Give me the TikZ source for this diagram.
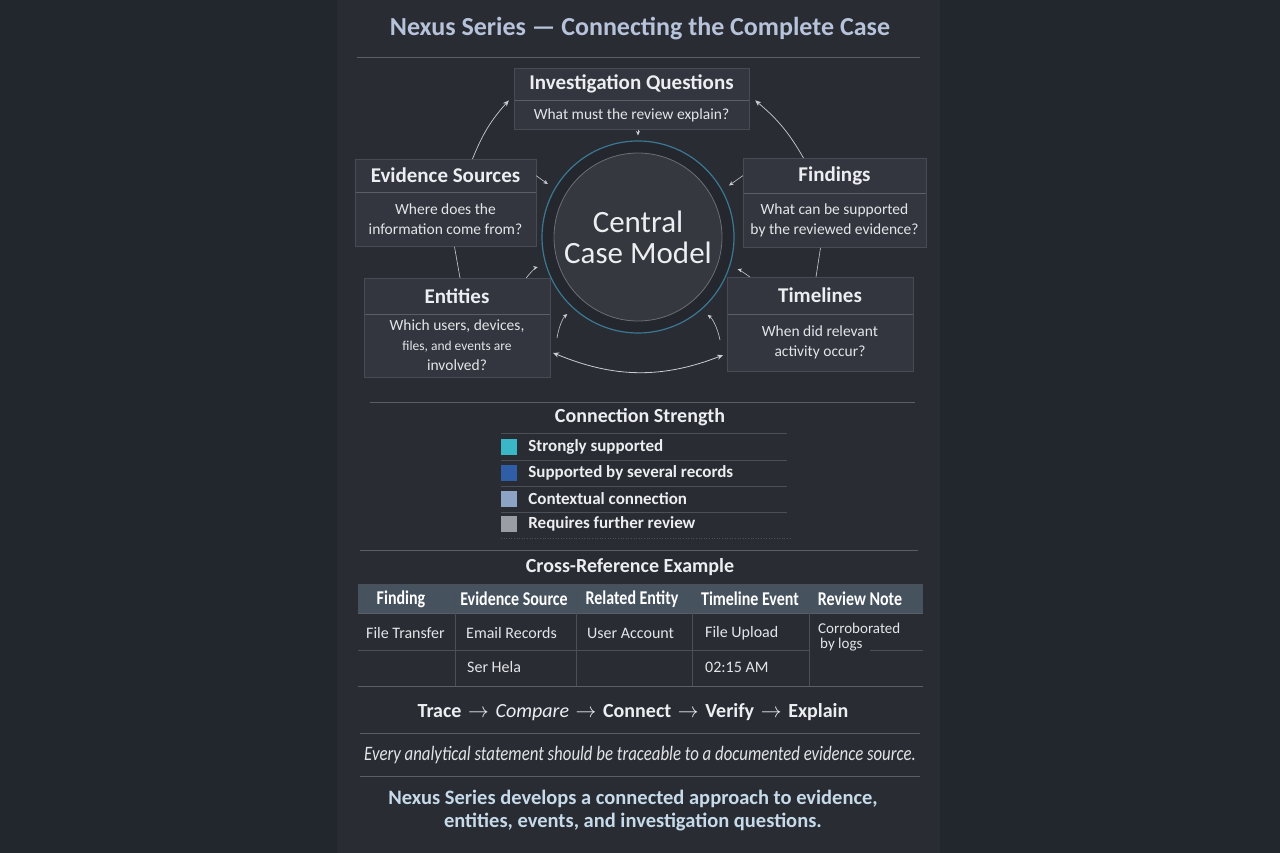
\documentclass[tikz,border=0pt]{standalone}
\usepackage{fontspec}
\usepackage{xcolor}
\usepackage{tikz}
\usetikzlibrary{positioning,arrows.meta}
\setmainfont{Carlito}
\newfontfamily\narrowfont[FakeStretch=0.82]{Carlito}

\definecolor{pagebg}{HTML}{22262D}
\definecolor{panelbg}{HTML}{292C33}
\definecolor{cardbg}{HTML}{33363E}
\definecolor{cardline}{HTML}{474B54}
\definecolor{rulegray}{HTML}{595E67}
\definecolor{tabline}{HTML}{4A4F58}
\definecolor{titleblue}{HTML}{B7C3DA}
\definecolor{inkwhite}{HTML}{ECEEF1}
\definecolor{arrowgray}{HTML}{C9CDD3}
\definecolor{ringblue}{HTML}{3C7893}
\definecolor{ringfill}{HTML}{24272D}
\definecolor{discfill}{HTML}{35383E}
\definecolor{discline}{HTML}{6A6E75}
\definecolor{headfill}{HTML}{46525E}
\definecolor{strongc}{HTML}{3BB6C6}
\definecolor{severalc}{HTML}{2F5EA6}
\definecolor{contextc}{HTML}{8DA3C6}
\definecolor{reviewc}{HTML}{9A9EA4}
\definecolor{closeblue}{HTML}{C6DAEA}

\newcommand{\fs}[2]{\fontsize{#1}{#2}\selectfont}

\begin{document}
\begin{tikzpicture}[
    x=1pt, y=-1pt,
    cardhead/.style={fill=cardbg, text=inkwhite, font=\fs{21}{24}\bfseries, inner sep=0pt, anchor=north},
    cardbody/.style={fill=cardbg, text=inkwhite!92!gray, font=\fs{15.5}{20}, align=center, inner sep=0pt},
    cardrule/.style={rulegray, line width=0.8pt},
    cardframe/.style={cardline, line width=0.6pt},
    ring/.style={circle, minimum size=192pt, inner sep=0pt, fill=ringfill, draw=ringblue, line width=1.2pt},
    core/.style={circle, minimum size=168pt, inner sep=0pt, fill=discfill, draw=discline, line width=0.8pt, align=center, text=inkwhite, font=\fs{31}{31}},
    link/.style={-{Stealth[length=6pt,width=5pt]}, arrowgray, line width=0.7pt},
    spoke/.style={-{Stealth[length=4.5pt,width=4pt]}, arrowgray, line width=0.6pt, shorten >=8pt},
    tie/.style={arrowgray, line width=0.6pt},
    twoway/.style={{Stealth[length=6pt,width=5pt]}-{Stealth[length=6pt,width=5pt]}, arrowgray, line width=0.8pt},
    sectrule/.style={rulegray, line width=0.8pt},
    legrule/.style={tabline, line width=0.6pt},
    sechead/.style={text=inkwhite, font=\fs{20}{24}\bfseries},
    swatch/.style={minimum size=16pt, inner sep=0pt},
    legtext/.style={inner sep=0pt, text=inkwhite, font=\fs{17}{19}\bfseries},
    tabhead/.style={text=white, font=\narrowfont\fs{19.5}{22}\bfseries},
    tabcell/.style={text=inkwhite!92!gray, font=\fs{16}{18}, inner sep=0pt},
    tabrule/.style={tabline, line width=0.7pt}
]
\fill[pagebg] (0,0) rectangle (1280,853);
\fill[panelbg] (337,0) rectangle (940,853);
\useasboundingbox (0,0) rectangle (1280,853);

\node[text=titleblue, font=\fs{26}{30}\bfseries] (title) at (640,29) {Nexus Series --- Connecting the Complete Case};
\draw[sectrule] (357,57) -- (920,57);

\node[ring] (ring) at (638,237) {};
\node[core] (core) at (638,237) {Central\\Case Model};

\node[cardhead, minimum width=235pt, minimum height=32pt] (iqh) at (631.5,68) {Investigation Questions};
\node[cardbody, minimum width=235pt, minimum height=29pt, below=0pt of iqh] (iqb) {What must the review explain?};
\draw[cardrule] (iqh.south west) -- (iqh.south east);
\draw[cardframe] (iqh.north west) rectangle (iqb.south east);

\node[cardhead, minimum width=181pt, minimum height=33pt] (esh) at (445.5,159) {Evidence Sources};
\node[cardbody, minimum width=181pt, minimum height=54pt, below=0pt of esh] (esb) {Where does the\\information come from?};
\draw[cardrule] (esh.south west) -- (esh.south east);
\draw[cardframe] (esh.north west) rectangle (esb.south east);

\node[cardhead, minimum width=183pt, minimum height=35pt] (fdh) at (834.5,158) {Findings};
\node[cardbody, minimum width=183pt, minimum height=54pt, below=0pt of fdh] (fdb) {What can be supported\\by the reviewed evidence?};
\draw[cardrule] (fdh.south west) -- (fdh.south east);
\draw[cardframe] (fdh.north west) rectangle (fdb.south east);

\node[cardhead, minimum width=186pt, minimum height=36pt] (enh) at (457,278) {Entities};
\node[cardbody, minimum width=186pt, minimum height=62pt, below=0pt of enh] (enb) {Which users, devices,\\{\fs{13.5}{20}files, and events are}\\involved?};
\draw[cardrule] (enh.south west) -- (enh.south east);
\draw[cardframe] (enh.north west) rectangle (enb.south east);

\node[cardhead, minimum width=186pt, minimum height=37pt] (tlh) at (820,277) {Timelines};
\node[cardbody, minimum width=186pt, minimum height=56pt, below=0pt of tlh] (tlb) {When did relevant\\activity occur?};
\draw[cardrule] (tlh.south west) -- (tlh.south east);
\draw[cardframe] (tlh.north west) rectangle (tlb.south east);

\draw[link] ([xshift=27pt]esh.north) to[bend left=10] ([xshift=-5pt]iqh.south west);
\draw[link] ([xshift=-31pt]fdh.north) to[bend right=10] ([xshift=6pt]iqh.south east);
\draw[tie] ([xshift=9pt]esb.south) -- ([xshift=3pt]enh.north);
\draw[tie] ([xshift=-14pt]fdb.south) -- ([xshift=-4pt]tlh.north);
\draw[spoke, shorten >=5pt] ([xshift=6.5pt]iqb.south) -- (ring.north);
\draw[spoke] (esh.east) -- (ring.150);
\draw[spoke] (fdh.west) -- (ring.29);
\draw[spoke] ([xshift=-24pt]enh.north east) to[bend left=20] (ring.197);
\draw[spoke] ([xshift=23pt]tlh.north west) to[bend right=10] (ring.-18);
\coordinate (arcl) at (557,338);
\coordinate (arcr) at (720,340);
\draw[spoke] (arcl) to[bend left=20] (ring.228);
\draw[spoke] (arcr) to[bend right=20] (ring.-49);
\draw[twoway, shorten <=3pt, shorten >=4pt] ([yshift=-6pt]enb.east) to[bend right=22] ([yshift=-11pt]tlb.west);

\draw[sectrule] (370,402) -- (915,402);
\node[sechead] (cstitle) at (640,417) {Connection Strength};
\draw[legrule] (501,433) -- (787,433);
\node[swatch, fill=strongc] (sw1) at (509,447) {};
\node[legtext, right=11pt of sw1] (lg1) {Strongly supported};
\draw[legrule] (501,460) -- (787,460);
\node[swatch, fill=severalc] (sw2) at (509,473) {};
\node[legtext, right=11pt of sw2] (lg2) {Supported by several records};
\draw[legrule] (501,486) -- (787,486);
\node[swatch, fill=contextc] (sw3) at (509,499) {};
\node[legtext, right=11pt of sw3] (lg3) {Contextual connection};
\draw[legrule] (501,512) -- (787,512);
\node[swatch, fill=reviewc] (sw4) at (509,524) {};
\node[legtext, right=11pt of sw4] (lg4) {Requires further review};
\draw[legrule, dotted] (501,538) -- (792,538);

\draw[sectrule] (360,550) -- (918,550);
\node[sechead] (xrtitle) at (630,567) {Cross-Reference Example};
\fill[headfill] (358,584) rectangle (923,613);
\draw[tabrule] (358,584) -- (923,584);
\draw[sectrule] (358,613) -- (923,613);
\draw[tabrule] (358,650) -- (809,650);
\draw[tabrule] (870,650) -- (923,650);
\draw[sectrule] (358,686) -- (923,686);
\draw[tabrule] (455,584) -- (455,686);
\draw[tabrule] (576,584) -- (576,686);
\draw[tabrule] (692,584) -- (692,686);
\draw[tabrule] (809,584) -- (809,686);
\node[tabhead] (h1) at (401,599) {Finding};
\node[tabhead] (h2) at (514,599) {Evidence Source};
\node[tabhead] (h3) at (632,599) {Related Entity};
\node[tabhead] (h4) at (750,599) {Timeline Event};
\node[tabhead] (h5) at (860,599) {Review Note};
\node[tabcell] (c11) at (405.5,633) {File Transfer};
\node[tabcell, anchor=west] (c12) at (466,633) {Email Records};
\node[tabcell, anchor=west] (c13) at (587,633) {User Account};
\node[tabcell, anchor=west] (c14) at (705,633) {File Upload};
\node[tabcell, anchor=west, align=left, font=\fs{15}{15}] (c15) at (818,637) {Corroborated\\\hspace*{2pt}by logs};
\node[tabcell, anchor=west] (c22) at (467,667) {Ser Hela};
\node[tabcell, anchor=west] (c24) at (705,667) {02:15 AM};

\node[text=inkwhite, font=\fs{20}{24}\bfseries] (flow) at (633,712) {Trace\,\,$\rightarrow$\,\,{\mdseries\itshape Compare}\,\,$\rightarrow$\,\,Connect\,\,$\rightarrow$\,\,Verify\,\,$\rightarrow$\,\,Explain};
\draw[sectrule] (360,733) -- (920,733);
\node[text=inkwhite!92!gray, font=\narrowfont\fs{20.5}{24}\itshape] (motto) at (640,755) {Every analytical statement should be traceable to a documented evidence source.};
\draw[sectrule] (360,776) -- (920,776);
\node[text=closeblue, align=center, font=\fs{20.5}{23}\bfseries] (closing) at (633,811) {Nexus Series develops a connected approach to evidence,\\entities, events, and investigation questions.};
\end{tikzpicture}
\end{document}
